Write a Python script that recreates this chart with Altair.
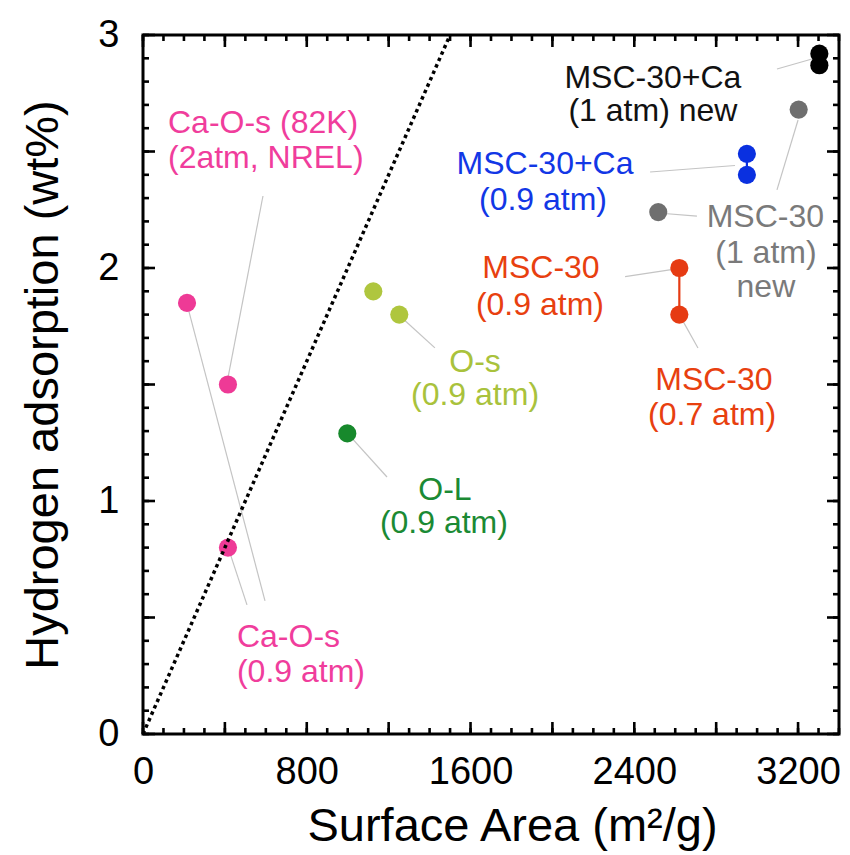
import altair as alt
import pandas as pd

FONT = "Liberation Sans"
W, H = 696, 699

# BET surface area (m²/g) against hydrogen uptake (wt%)
area = [215, 415, 415, 1125, 1252, 998, 2620, 2620, 2950, 2950, 2517, 3203, 3304, 3304]
uptake = [1.85, 1.50, 0.80, 1.90, 1.80, 1.29, 2.00, 1.80, 2.49, 2.40, 2.24, 2.68, 2.92, 2.87]
series = ["caos", "caos", "caos", "os", "os", "ol", "msc", "msc",
          "mscca", "mscca", "msc1", "msc1", "mscca1", "mscca1"]

colors = {"caos": "#ee3a96", "os": "#afc63e", "ol": "#17892c", "msc": "#e63b13",
          "mscca": "#0a30e0", "msc1": "#6f6f6f", "mscca1": "#000000"}
text_colors = {"caos": "#f03d9c", "os": "#a9c23c", "ol": "#1b8a34", "msc": "#e8400f",
               "mscca": "#1237e6", "msc1": "#7a7a7a", "mscca1": "#111111"}

# pairs measured at two pressures are joined
joined = ["msc", "mscca", "mscca1"]

# annotation text
label_text = ["Ca-O-s (82K)", "(2atm, NREL)", "Ca-O-s", "(0.9 atm)", "O-s", "(0.9 atm)",
              "O-L", "(0.9 atm)", "MSC-30", "(0.9 atm)", "MSC-30", "(0.7 atm)",
              "MSC-30+Ca", "(0.9 atm)", "MSC-30", "(1 atm)", "new", "MSC-30+Ca", "(1 atm) new"]
label_x = [122, 122, 459, 459, 1622, 1622, 1475, 1470, 1944, 1939, 2789, 2780,
           1964, 1954, 3040, 3043, 3043, 2491, 2491]
label_y = [2.622, 2.472, 0.416, 0.266, 1.597, 1.455, 1.047, 0.906, 2.0, 1.841, 1.519, 1.369,
           2.445, 2.292, 2.219, 2.064, 1.918, 2.815, 2.672]
label_series = ["caos", "caos", "caos", "caos", "os", "os", "ol", "ol", "msc", "msc", "msc", "msc",
                "mscca", "mscca", "msc1", "msc1", "msc1", "mscca1", "mscca1"]
label_align = ["left"] * 4 + ["center"] * 15

# thin leader lines from labels to points
lead_x = [3097, 3200, 2516, 2477, 2355, 2620, 1255, 997, 586, 215, 415]
lead_y = [2.854, 2.635, 2.236, 2.412, 1.963, 1.80, 1.794, 1.292, 2.309, 1.845, 0.803]
lead_x2 = [3268, 3097, 2706, 2892, 2589, 2711, 1426, 1192, 415, 596, 508]
lead_y2 = [2.897, 2.335, 2.223, 2.44, 1.994, 1.657, 1.657, 1.103, 1.528, 0.571, 0.554]

# Chahine's rule: 1 wt% per 500 m²/g
rule_area = [0, 1500]
rule_uptake = [0, 3]

x_ticks_minor = list(range(0, 3401, 100))
x_ticks_major = list(range(0, 3401, 400))
y_ticks_minor = [i / 10 for i in range(31)]
y_ticks_major = [i / 2 for i in range(7)]

XS = alt.Scale(domain=[0, 3400], nice=False, zero=False)
YS = alt.Scale(domain=[0, 3], nice=False, zero=False)

pts = pd.DataFrame({"area": area, "uptake": uptake, "series": series})
pts["color"] = pts["series"].map(colors)
labels = pd.DataFrame({"text": label_text, "x": label_x, "y": label_y,
                       "series": label_series, "align": label_align})
labels["color"] = labels["series"].map(text_colors)
leaders = pd.DataFrame({"x": lead_x, "y": lead_y, "x2": lead_x2, "y2": lead_y2})
chahine = pd.DataFrame({"area": rule_area, "uptake": rule_uptake})
pairs = pts[pts["series"].isin(joined)]

X_AXIS = alt.Axis(values=[0, 800, 1600, 2400, 3200], format="d", ticks=False, domain=False,
                  grid=False, labelFont=FONT, labelFontSize=38, labelColor="black",
                  labelPadding=19, labelFlush=False, title="Surface Area (m²/g)",
                  titleFont=FONT, titleFontSize=47, titleFontWeight="normal",
                  titleColor="black", titlePadding=12, titleX=369)
Y_AXIS = alt.Axis(values=[0, 1, 2, 3], format="d", ticks=False, domain=False, grid=False,
                  labelFont=FONT, labelFontSize=38, labelColor="black", labelPadding=24,
                  labelFlush=False, title="Hydrogen adsorption (wt%)", titleFont=FONT,
                  titleFontSize=47, titleFontWeight="normal", titleColor="black",
                  titlePadding=30)


def xq(field):
    return alt.X(field, type="quantitative", scale=XS, axis=X_AXIS)


def yq(field):
    return alt.Y(field, type="quantitative", scale=YS, axis=Y_AXIS)


leader_layer = alt.Chart(leaders).mark_rule(color="#c4c4c4", strokeWidth=1.2).encode(
    x=xq("x"), y=yq("y"), x2="x2:Q", y2="y2:Q",
)

pair_layer = alt.Chart(pairs).mark_line(strokeWidth=2.2).encode(
    x=xq("area"), y=yq("uptake"),
    color=alt.Color("color:N", scale=None), detail="series:N",
)

point_layer = alt.Chart(pts).mark_circle(size=330, opacity=1).encode(
    x=xq("area"), y=yq("uptake"),
    color=alt.Color("color:N", scale=None),
)

chahine_layer = alt.Chart(chahine).mark_line(color="black", strokeWidth=3.5,
                                             strokeDash=[3.5, 3.5]).encode(
    x=xq("area"), y=yq("uptake"),
)


def text_layer(align):
    return alt.Chart(labels[labels["align"] == align]).mark_text(
        font=FONT, fontSize=32, align=align, baseline="middle").encode(
        x=xq("x"), y=yq("y"),
        text="text:N", color=alt.Color("color:N", scale=None),
    )


def xticks(vals, length, top):
    df = pd.DataFrame({"v": vals})
    if top:
        ys = dict(y=alt.value(0), y2=alt.value(length))
    else:
        ys = dict(y=alt.value(H), y2=alt.value(H - length))
    return alt.Chart(df).mark_rule(color="black", strokeWidth=2.6).encode(
        x=xq("v"), **ys)


def yticks(vals, length, right):
    df = pd.DataFrame({"v": vals})
    if right:
        xs = dict(x=alt.value(W), x2=alt.value(W - length))
    else:
        xs = dict(x=alt.value(0), x2=alt.value(length))
    return alt.Chart(df).mark_rule(color="black", strokeWidth=2.6).encode(
        y=yq("v"), **xs)


tick_layers = []
for side in (False, True):
    tick_layers += [xticks(x_ticks_minor, 6, side), xticks(x_ticks_major, 12, side),
                    yticks(y_ticks_minor, 6, side), yticks(y_ticks_major, 12, side)]

chart = alt.layer(
    leader_layer, pair_layer, point_layer, chahine_layer,
    text_layer("left"), text_layer("center"), *tick_layers,
).properties(
    width=W, height=H,
    autosize=alt.AutoSizeParams(type="none"),
    padding={"left": 143, "top": 35, "right": 11, "bottom": 121},
).configure_view(stroke="black", strokeWidth=3)

chart.save("out.html", embed_options={"renderer": "svg", "actions": False})
